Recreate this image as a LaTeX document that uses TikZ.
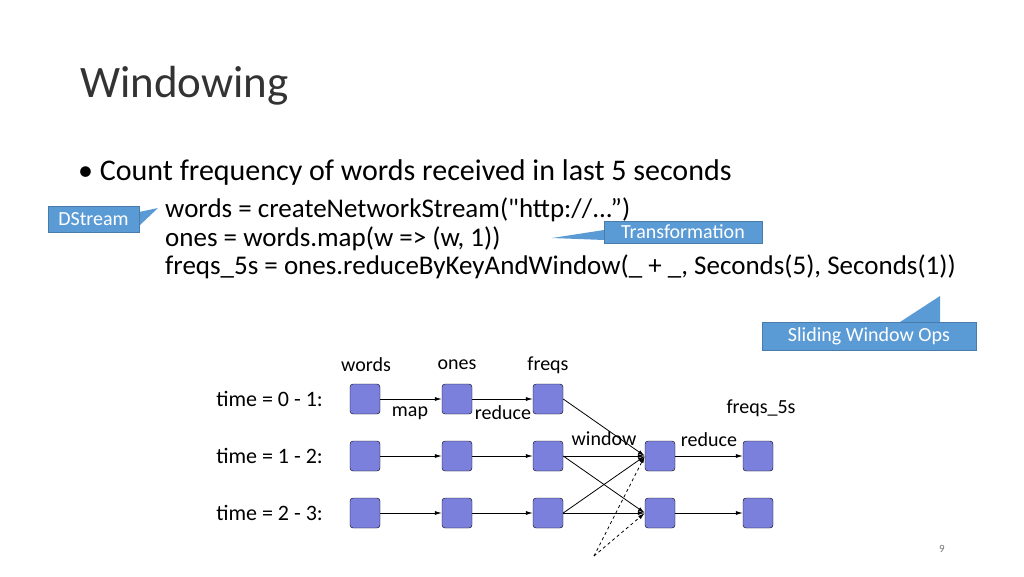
\documentclass[tikz,border=0pt]{standalone}
\usepackage{fontspec}
\setmainfont{Carlito}
\usetikzlibrary{arrows.meta,positioning}
\definecolor{calloutblue}{HTML}{5B9BD5}
\definecolor{rddblue}{HTML}{7B80DD}
\tikzset{
  rdd/.style={draw=black, fill=rddblue, rounded corners=3pt, minimum size=30pt, inner sep=0pt},
  flow/.style={-{Latex[length=7pt,width=4pt]}, line width=0.8pt},
  lbl/.style={font=\fontsize{20}{22}\selectfont, inner sep=1pt},
  callout/.style={fill=calloutblue, draw=calloutblue!80!black, text=white, font=\fontsize{20}{22}\selectfont, inner sep=2pt}
}
\begin{document}
\begin{tikzpicture}[x=1pt,y=-1pt]
  \useasboundingbox (0,0) rectangle (1024,576);
  \node[anchor=west, font=\fontsize{45}{50}\selectfont, text=black!80, inner sep=0pt] (title) at (80,86) {Windowing};
  \node[anchor=west, font=\fontsize{30}{34}\selectfont, inner sep=0pt] (bullet) at (78,172) {\textbullet\ Count frequency of words received in last 5 seconds};
  \node[anchor=north west, align=left, font=\fontsize{27}{28.5}\selectfont, inner sep=0pt] (code) at (165,198)
    {words = createNetworkStream(\textquotedbl http://...”)\\
     ones = words.map(w => (w, 1))\\
     freqs\_5s = ones.reduceByKeyAndWindow(\_ + \_, Seconds(5), Seconds(1))};
  % callouts
  \fill[calloutblue] (139,212) -- (158,208) -- (139,226) -- cycle;
  \node[callout, minimum width=91pt, minimum height=26pt] (dstream) at (93.5,219) {DStream};
  \fill[calloutblue] (604,230) -- (552,238) -- (604,240) -- cycle;
  \node[callout, minimum width=158pt, minimum height=22pt] (transf) at (683,232) {Transformation};
  \fill[calloutblue] (900,322) -- (940,296) -- (940,322) -- cycle;
  \node[callout, minimum width=214pt, minimum height=28pt] (sliding) at (869,336) {Sliding Window Ops};
  % column headers
  \node[lbl] (hw) at (366,365) {words};
  \node[lbl] (ho) at (457,365) {ones};
  \node[lbl] (hf) at (548,365) {freqs};
  \node[lbl] (h5) at (761,408) {freqs\_5s};
  % rows
  \foreach \r/\y/\t in {0/399/0 - 1, 1/456/1 - 2, 2/513/2 - 3} {
    \node[lbl, anchor=east, font=\fontsize{22}{24}\selectfont] (t\r) at (324,\y) {time = \t:};
    \node[rdd] (w\r) at (365,\y) {};
    \node[rdd] (o\r) at (457,\y) {};
    \node[rdd] (f\r) at (548,\y) {};
    \draw[flow] (w\r) -- (o\r);
    \draw[flow] (o\r) -- (f\r);
  }
  \node[rdd] (win1) at (660,456) {};
  \node[rdd] (win2) at (660,513) {};
  \node[rdd] (out1) at (758,456) {};
  \node[rdd] (out2) at (758,513) {};
  \node[lbl] (lmap) at (410,413) {map};
  \node[lbl] (lred) at (503,413) {reduce};
  \node[lbl] (lwin) at (604,439) {window};
  \node[lbl] (lred2) at (709,440) {reduce};
  \draw[flow] (f0.east) -- (win1.west);
  \draw[flow] (f1.east) -- (win1.west);
  \draw[flow] (f1.east) -- (win2.west);
  \draw[flow] (f2.east) -- (win1.west);
  \draw[flow] (f2.east) -- (win2.west);
  \coordinate (dash) at (594,556);
  \draw[flow, dashed] (dash) -- (win1.west);
  \draw[flow, dashed] (dash) -- (win2.west);
  \draw[flow] (win1) -- (out1);
  \draw[flow] (win2) -- (out2);
  \node[font=\fontsize{11}{13}\selectfont, text=black!55] (page) at (942,549) {9};
\end{tikzpicture}
\end{document}
